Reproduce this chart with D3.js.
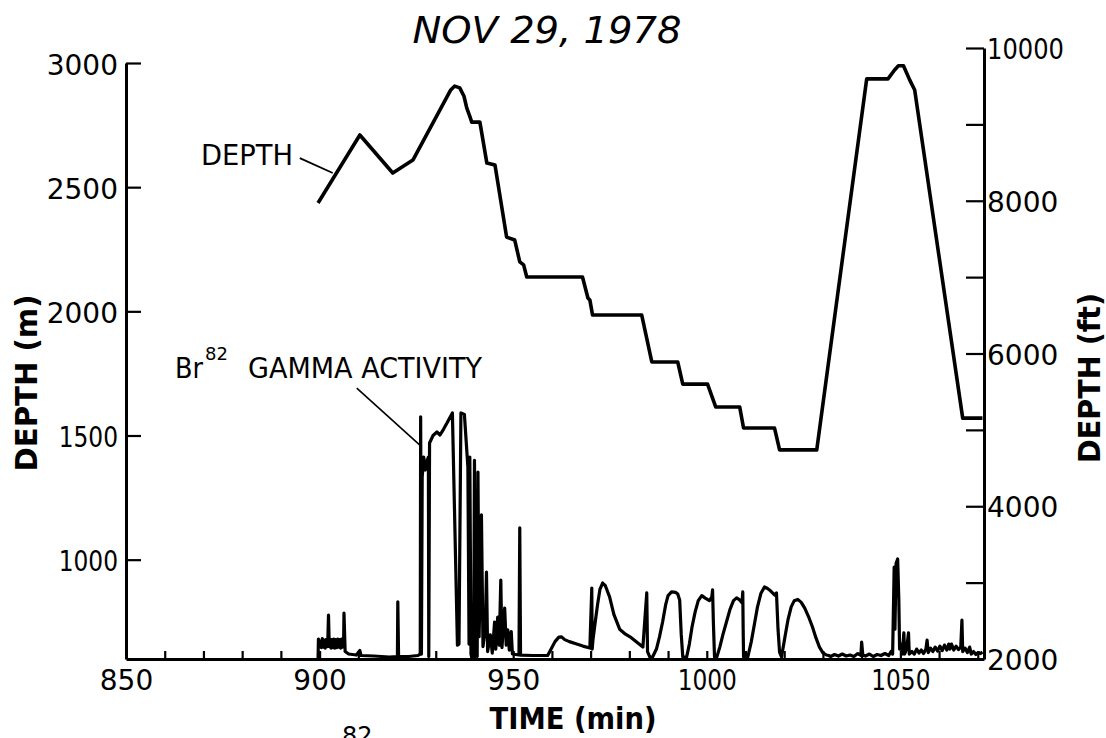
<!DOCTYPE html>
<html><head><meta charset="utf-8">
<script src="https://cdn.jsdelivr.net/npm/d3@7"></script>
<style>body{margin:0;background:#fff} svg{display:block} text{font-family:"DejaVu Sans",sans-serif;fill:#000}</style>
</head><body>
<svg id="c" width="1106" height="738"></svg>
<script>
// ---------- data ----------
const titleText = "NOV 29, 1978";
const xTickValues = [850,860,870,880,890,900,910,920,930,940,950,960,970,980,990,1000,1010,1020,1030,1040,1050,1060,1070];
const xTickLabels = [850,900,950,1000,1050];
const leftTickValues = [1000,1500,2000,2500,3000];
const rightTickValues = [2000,3000,4000,5000,6000,7000,8000,9000,10000];
const rightTickLabels = [2000,4000,6000,8000,10000];

// depth (m) vs time (min)
const depthPoints = [
 [899.6,2436],[910.4,2710],[918.9,2557],[924.1,2609],[933.8,2890],[934.9,2907],[936.2,2900],
 [937.3,2866],[938.0,2819],[938.8,2785],[939.3,2762],[941.4,2762],[943.2,2597],[945.3,2589],
 [948.3,2299],[950.4,2287],[951.7,2199],[952.7,2187],[953.5,2138],[967.9,2138],[969.3,2054],
 [969.8,2046],[970.5,1985],[983.2,1985],[985.8,1796],[992.5,1796],[993.8,1707],[1000.2,1707],
 [1002.3,1615],[1008.5,1615],[1009.5,1530],[1017.5,1530],[1018.8,1442],[1028.4,1442],
 [1041.3,2936],[1046.8,2936],[1048.5,2972],[1049.5,2989],[1050.8,2989],[1052.4,2932],
 [1053.7,2891],[1066.1,1570],[1071.2,1570]
];

// Br-82 gamma activity (relative counts) vs time (min)
const gammaPoints = [
 [899.6,0],[899.7,80],[899.95,50],[900.2,72],[900.45,46],[900.7,82],[900.95,48],[901.2,76],[901.45,44],
 [901.7,78],[901.95,50],[902.1,58],[902.3,177],[902.5,50],[902.7,80],[902.95,44],[903.2,78],[903.45,46],
 [903.7,80],[903.95,44],[904.2,78],[904.45,46],[904.7,80],[904.95,48],[905.2,78],[905.45,44],[905.7,80],
 [905.95,48],[906.2,62],[906.3,185],
 [906.6,30],[907.5,20],[909.5,16],[910.4,34],[910.7,14],[914,12],[918,8],[920.1,10],[920.2,230],
 [920.4,10],[923,10],[925.4,14],[926.0,20],[926.1,975],[926.3,20],[926.5,733],[926.9,813],[927.3,761],
 [927.8,800],[928.1,813],[928.2,10],[928.4,870],[929.3,900],[930.3,914],[931.1,902],[932.0,925],
 [932.9,950],[934.3,991],[935.6,56],[936.0,60],[936.5,991],[937.4,985],[938.3,773],[938.6,60],
 [938.8,813],[939.1,20],[939.3,4],[939.8,10],[940.0,800],[940.3,20],[940.7,10],[940.9,753],[941.2,90],
 [941.8,580],[942.2,50],[942.8,120],[943.1,350],[943.4,30],[944.1,97],[944.6,24],[945.2,149],
 [945.5,40],[946.0,169],[946.4,56],[946.8,318],[947.1,46],[947.8,205],[948.2,56],[948.6,117],
 [949.0,36],[949.5,110],[949.8,20],[951.5,16],[951.7,528],[951.9,16],[955,14],[958.9,14],
 [959.8,40],[960.8,70],[961.8,88],[962.5,89],[963.3,78],[964.5,70],[966,62],[968,52],[969.8,44],
 [970.3,286],[970.4,40],[970.6,76],[971.2,150],[971.8,220],[972.4,280],[973.1,306],[973.8,295],
 [974.9,250],[976,180],[977.5,120],[979,100],[980.5,86],[983.5,48],[984.5,266],[984.7,30],[985.3,8],
 [986.0,8],[987.0,40],[987.8,90],[988.6,150],[989.4,220],[990.0,255],[990.9,270],[992.0,268],
 [992.5,262],[993.0,238],[993.4,100],[993.8,8],
 [994.8,8],[995.5,60],[996.2,130],[997.0,190],[997.8,235],[998.7,255],[999.6,245],[1000.7,235],
 [1001.3,250],[1001.5,278],[1001.7,150],[1002.0,8],
 [1002.6,8],[1003.4,50],[1004.2,100],[1005.1,150],[1006,200],[1006.9,235],[1007.7,246],[1008.5,238],
 [1009.1,226],[1009.3,270],[1009.4,120],[1009.5,8],
 [1010.6,8],[1011.5,70],[1012.3,140],[1013.1,210],[1014.0,265],[1014.9,290],[1015.6,285],[1016.2,278],
 [1017.5,258],[1018.0,266],[1018.4,120],[1018.8,28],[1019.3,8],
 [1020.2,90],[1021.0,160],[1021.8,210],[1022.6,235],[1023.5,240],[1024.4,228],[1025.3,205],
 [1026.3,170],[1027.3,129],[1028.2,85],[1029.1,48],[1030.0,25],[1030.9,16],
 [1031.5,14],[1032,10],[1033,18],[1034,12],[1035,20],[1036,12],[1037,16],[1038,10],[1039,22],
 [1039.8,14],[1040.0,68],[1040.3,16],[1041,12],[1042,20],[1043,10],[1044,18],[1045,14],[1046,22],
 [1047,14],[1047.6,30],[1048.0,20],[1048.4,370],[1048.6,120],[1048.9,385],[1049.3,403],
 [1049.6,240],[1049.8,40],[1050.2,60],[1050.5,20],[1050.9,105],[1051.1,20],[1051.6,40],
 [1052.1,105],[1052.3,20],[1053,30],[1053.6,20],[1054.2,40],[1054.8,24],[1055.4,36],[1056,22],
 [1056.6,40],[1056.9,76],[1057.2,26],[1057.8,44],[1058.4,30],[1059,48],[1059.6,32],[1060.2,52],
 [1060.8,34],[1061.4,56],[1062,36],[1062.5,60],[1062.8,40],[1063.2,60],[1063.8,36],[1064.4,52],
 [1065,38],[1065.6,48],[1065.9,157],[1066.1,30],[1066.7,44],[1067.3,26],[1067.9,48],[1068.3,20],
 [1068.9,30],[1069.5,18],[1070.1,26],[1070.7,22],[1071.2,28]
];

// annotation leader lines (data coords: time, depth m)
const depthLeader = [[894.9,2617],[903.4,2557]];
const gammaLeader = [[909.6,1691],[926.4,1454]];

// ---------- scales ----------
const svg = d3.select("#c");
const x = d3.scaleLinear().domain([850,1071.6]).range([126,984]);
const y = d3.scaleLinear().domain([600,3000]).range([659,63]);
const yFt = d3.scaleLinear().domain([2000,10000]).range([659,48]);
const gy = d3.scaleLinear().domain([0,1000]).range([y(600), y(1600)]);

function labelWidth(s){ let w=0; for(const ch of s) w += (ch==="1")?6.5:17.6; return w; }
function fitLabels(sel){
  sel.selectAll(".tick text").each(function(){
    const s = this.textContent;
    if (s && s.includes("1")) {
      d3.select(this).attr("textLength", labelWidth(s)).attr("lengthAdjust","spacingAndGlyphs");
    }
  });
}
function styleAxis(g){
  g.selectAll(".domain").attr("stroke","#000").attr("stroke-width",3);
  g.selectAll(".tick line").attr("stroke","#000").attr("stroke-width",2.2);
  g.selectAll(".tick text").attr("font-family","DejaVu Sans").attr("font-size",28).attr("fill","#000");
}

// ---------- axes ----------
const gx = svg.append("g").attr("transform","translate(0,659)")
  .call(d3.axisBottom(x).tickValues(xTickValues).tickSizeInner(-8).tickSizeOuter(0).tickPadding(11)
    .tickFormat(d => xTickLabels.includes(d) ? String(d) : ""));
styleAxis(gx); fitLabels(gx);
gx.selectAll(".tick").filter(d => d===850).select("line").remove();

const gl = svg.append("g").attr("transform","translate(126,0)")
  .call(d3.axisLeft(y).tickValues(leftTickValues).tickSizeInner(-15).tickSizeOuter(0).tickPadding(8)
    .tickFormat(d3.format("d")));
styleAxis(gl); fitLabels(gl);
gl.selectAll(".tick text").attr("dy","0.4em");

const gr = svg.append("g").attr("transform","translate(984,0)")
  .call(d3.axisRight(yFt).tickValues(rightTickValues).tickSizeInner(-18).tickSizeOuter(0).tickPadding(3)
    .tickFormat(d => rightTickLabels.includes(d) ? String(d) : ""));
styleAxis(gr); fitLabels(gr);
gr.selectAll(".tick text").attr("dy","0.38em");
gr.selectAll(".tick").filter(d => d===2000).select("line").remove();

// ---------- lines ----------
const line = d3.line().x(d => x(d[0])).y(d => y(d[1]));
const gline = d3.line().x(d => x(d[0])).y(d => gy(d[1]));

svg.append("path").datum(gammaPoints).attr("d", gline)
  .attr("fill","none").attr("stroke","#000").attr("stroke-width",3.2).attr("stroke-linejoin","round");
svg.append("path").datum(depthPoints).attr("d", line)
  .attr("fill","none").attr("stroke","#000").attr("stroke-width",3.6).attr("stroke-linejoin","round");

svg.append("path").datum(depthLeader).attr("d", line).attr("fill","none").attr("stroke","#000").attr("stroke-width",1.8);
svg.append("path").datum(gammaLeader).attr("d", line).attr("fill","none").attr("stroke","#000").attr("stroke-width",1.6);

// ---------- text ----------
svg.append("text").attr("x",547).attr("y",43).attr("text-anchor","middle")
  .attr("font-size",38).attr("font-style","italic").attr("textLength",269).attr("lengthAdjust","spacingAndGlyphs")
  .text(titleText);

svg.append("text").attr("x",201).attr("y",165).attr("font-size",29)
  .attr("textLength",92).attr("lengthAdjust","spacingAndGlyphs").text("DEPTH");

svg.append("text").attr("x",175).attr("y",378).attr("font-size",29)
  .attr("textLength",28).attr("lengthAdjust","spacingAndGlyphs").text("Br");
svg.append("text").attr("x",205).attr("y",360).attr("font-size",18).text("82");
svg.append("text").attr("x",248).attr("y",378).attr("font-size",29)
  .attr("textLength",234).attr("lengthAdjust","spacingAndGlyphs").text("GAMMA ACTIVITY");

svg.append("text").attr("transform","translate(37,383) rotate(-90)").attr("text-anchor","middle")
  .attr("font-size",31).attr("font-weight","bold").attr("textLength",177).attr("lengthAdjust","spacingAndGlyphs")
  .text("DEPTH (m)");
svg.append("text").attr("transform","translate(1100,378) rotate(-90)").attr("text-anchor","middle")
  .attr("font-size",30).attr("font-weight","bold").attr("textLength",170).attr("lengthAdjust","spacingAndGlyphs")
  .text("DEPTH (ft)");
svg.append("text").attr("x",573).attr("y",729).attr("text-anchor","middle")
  .attr("font-size",31).attr("font-weight","bold").attr("textLength",167).attr("lengthAdjust","spacingAndGlyphs")
  .text("TIME (min)");

// caption fragment cut off at the bottom edge, as in the reference
svg.append("text").attr("x",342).attr("y",744).attr("font-size",24).text("82");
</script>
</body></html>
